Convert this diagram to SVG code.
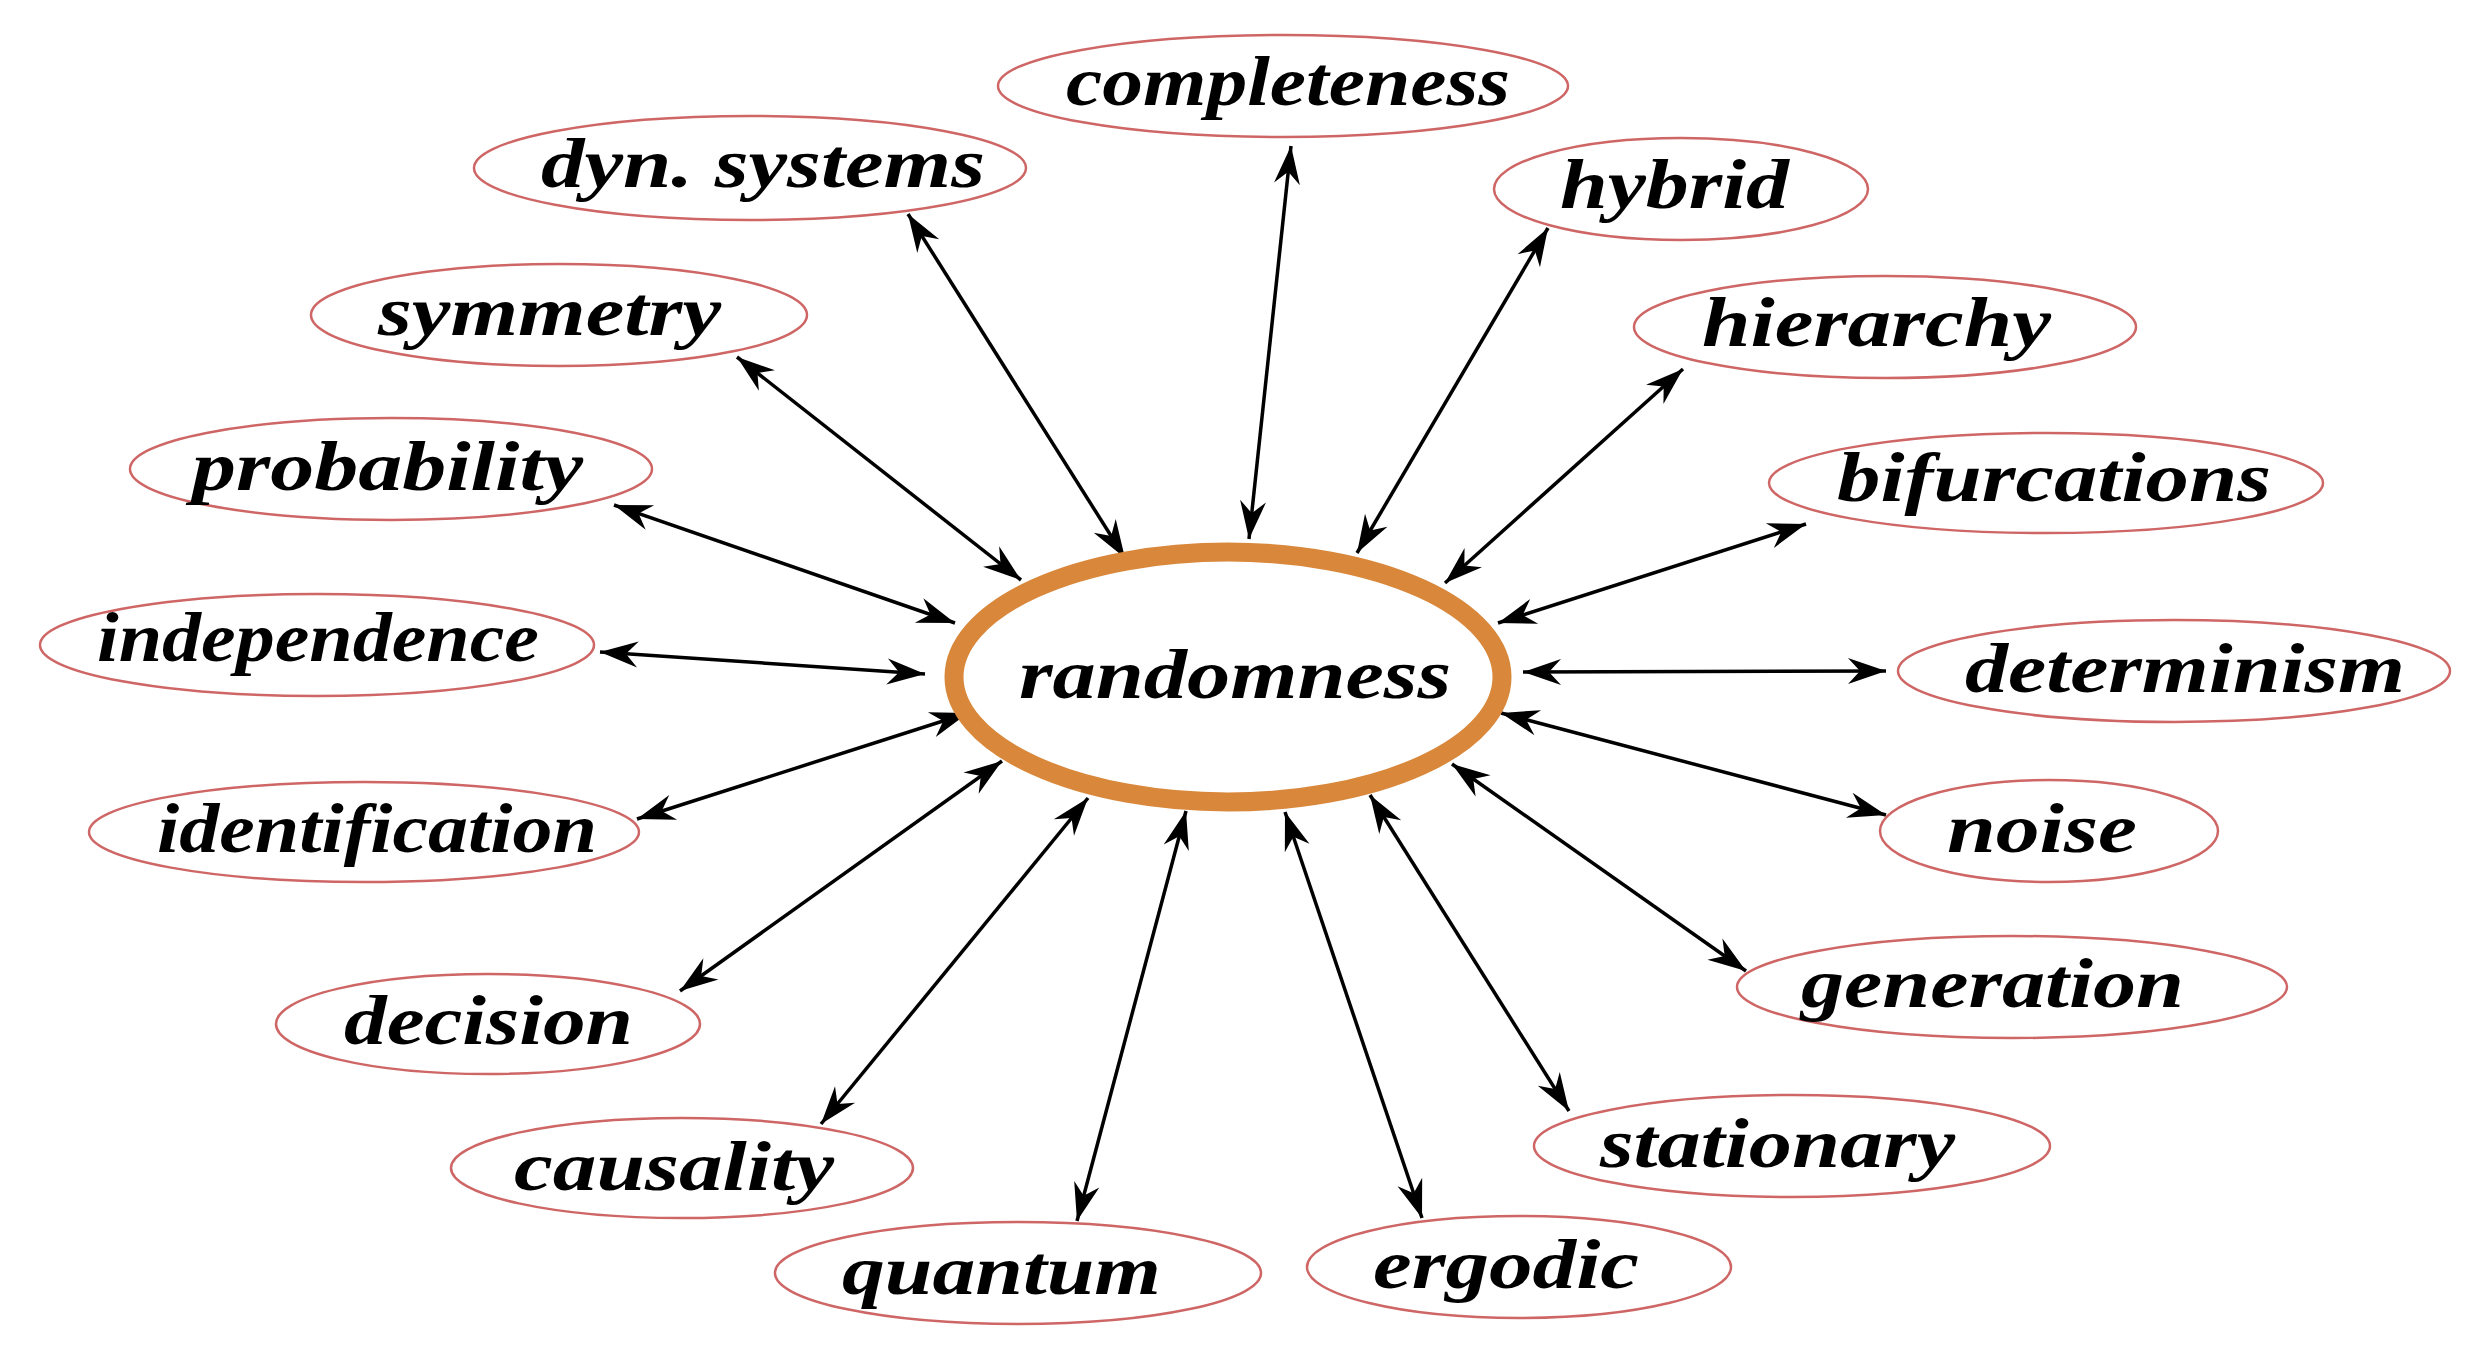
<svg xmlns="http://www.w3.org/2000/svg" width="2479" height="1353" viewBox="0 0 2479 1353">
<style>
  .node { fill: #FFFFFF; stroke: #CF6666; stroke-width: 2.5; }
  .center { fill: #FFFFFF; stroke: #D9883B; stroke-width: 19; }
  .lbl { font-family: "Liberation Serif", "Times New Roman", serif; font-weight: bold; font-style: italic; font-size: 70px; fill: #000000; }
  .conn line { stroke: #000000; stroke-width: 3.5; fill: none; marker-start: url(#arr); marker-end: url(#arr); }
</style>
<defs>
  <marker id="arr" markerUnits="userSpaceOnUse" viewBox="-40 -15 42 30" refX="0" refY="0" markerWidth="42" markerHeight="30" orient="auto-start-reverse">
    <path d="M0,0 L-38,-13 L-26,0 L-38,13 Z" fill="#000000"/>
  </marker>
</defs>
<rect x="0" y="0" width="2479" height="1353" fill="#FFFFFF"/>

<g id="connectors" class="conn">
  <line x1="1291" y1="146" x2="1249" y2="539"/>
  <line x1="908" y1="214" x2="1125" y2="558"/>
  <line x1="1548" y1="228" x2="1357" y2="553"/>
  <line x1="737" y1="357" x2="1021" y2="580"/>
  <line x1="1683" y1="369" x2="1445" y2="583"/>
  <line x1="614" y1="505" x2="955" y2="623"/>
  <line x1="1806" y1="524" x2="1498" y2="623"/>
  <line x1="600" y1="652" x2="925" y2="674"/>
  <line x1="1886" y1="671" x2="1523" y2="672"/>
  <line x1="637" y1="819" x2="968" y2="713"/>
  <line x1="1886" y1="815" x2="1501" y2="713"/>
  <line x1="680" y1="991" x2="1002" y2="761"/>
  <line x1="1746" y1="971" x2="1452" y2="764"/>
  <line x1="821" y1="1124" x2="1088" y2="798"/>
  <line x1="1569" y1="1111" x2="1370" y2="795"/>
  <line x1="1077" y1="1221" x2="1186" y2="811"/>
  <line x1="1422" y1="1218" x2="1285" y2="812"/>
</g>

<g id="randomness">
  <ellipse class="center" cx="1228" cy="677" rx="274" ry="125"/>
  <text class="lbl" x="1019" y="698" textLength="432" lengthAdjust="spacingAndGlyphs">randomness</text>
</g>
<g id="completeness">
  <ellipse class="node" cx="1283" cy="86" rx="285" ry="51"/>
  <text class="lbl" x="1066" y="105" textLength="444" lengthAdjust="spacingAndGlyphs">completeness</text>
</g>
<g id="dyn-systems">
  <ellipse class="node" cx="750" cy="168" rx="276" ry="52"/>
  <text class="lbl" x="541" y="187" textLength="444" lengthAdjust="spacingAndGlyphs">dyn. systems</text>
</g>
<g id="hybrid">
  <ellipse class="node" cx="1681" cy="189" rx="187" ry="51"/>
  <text class="lbl" x="1560" y="208" textLength="229" lengthAdjust="spacingAndGlyphs">hybrid</text>
</g>
<g id="symmetry">
  <ellipse class="node" cx="559" cy="315" rx="248" ry="51"/>
  <text class="lbl" x="378" y="335" textLength="343" lengthAdjust="spacingAndGlyphs">symmetry</text>
</g>
<g id="hierarchy">
  <ellipse class="node" cx="1885" cy="327" rx="251" ry="51"/>
  <text class="lbl" x="1702" y="346" textLength="349" lengthAdjust="spacingAndGlyphs">hierarchy</text>
</g>
<g id="probability">
  <ellipse class="node" cx="391" cy="469" rx="261" ry="51"/>
  <text class="lbl" x="192" y="490" textLength="391" lengthAdjust="spacingAndGlyphs">probability</text>
</g>
<g id="bifurcations">
  <ellipse class="node" cx="2046" cy="483" rx="277" ry="50"/>
  <text class="lbl" x="1837" y="501" textLength="434" lengthAdjust="spacingAndGlyphs">bifurcations</text>
</g>
<g id="independence">
  <ellipse class="node" cx="317" cy="645" rx="277" ry="51"/>
  <text class="lbl" x="97" y="661" textLength="442" lengthAdjust="spacingAndGlyphs">independence</text>
</g>
<g id="determinism">
  <ellipse class="node" cx="2174" cy="671" rx="276" ry="51"/>
  <text class="lbl" x="1965" y="692" textLength="440" lengthAdjust="spacingAndGlyphs">determinism</text>
</g>
<g id="identification">
  <ellipse class="node" cx="364" cy="832" rx="275" ry="50"/>
  <text class="lbl" x="157" y="852" textLength="440" lengthAdjust="spacingAndGlyphs">identification</text>
</g>
<g id="noise">
  <ellipse class="node" cx="2049" cy="831" rx="169" ry="51"/>
  <text class="lbl" x="1947" y="852" textLength="190" lengthAdjust="spacingAndGlyphs">noise</text>
</g>
<g id="decision">
  <ellipse class="node" cx="488" cy="1024" rx="212" ry="50"/>
  <text class="lbl" x="344" y="1044" textLength="289" lengthAdjust="spacingAndGlyphs">decision</text>
</g>
<g id="generation">
  <ellipse class="node" cx="2012" cy="987" rx="275" ry="51"/>
  <text class="lbl" x="1801" y="1007" textLength="383" lengthAdjust="spacingAndGlyphs">generation</text>
</g>
<g id="causality">
  <ellipse class="node" cx="682" cy="1168" rx="231" ry="50"/>
  <text class="lbl" x="514" y="1190" textLength="320" lengthAdjust="spacingAndGlyphs">causality</text>
</g>
<g id="stationary">
  <ellipse class="node" cx="1792" cy="1146" rx="258" ry="51"/>
  <text class="lbl" x="1600" y="1167" textLength="355" lengthAdjust="spacingAndGlyphs">stationary</text>
</g>
<g id="quantum">
  <ellipse class="node" cx="1018" cy="1273" rx="243" ry="51"/>
  <text class="lbl" x="842" y="1294" textLength="319" lengthAdjust="spacingAndGlyphs">quantum</text>
</g>
<g id="ergodic">
  <ellipse class="node" cx="1519" cy="1267" rx="212" ry="51"/>
  <text class="lbl" x="1373" y="1288" textLength="266" lengthAdjust="spacingAndGlyphs">ergodic</text>
</g>
</svg>
